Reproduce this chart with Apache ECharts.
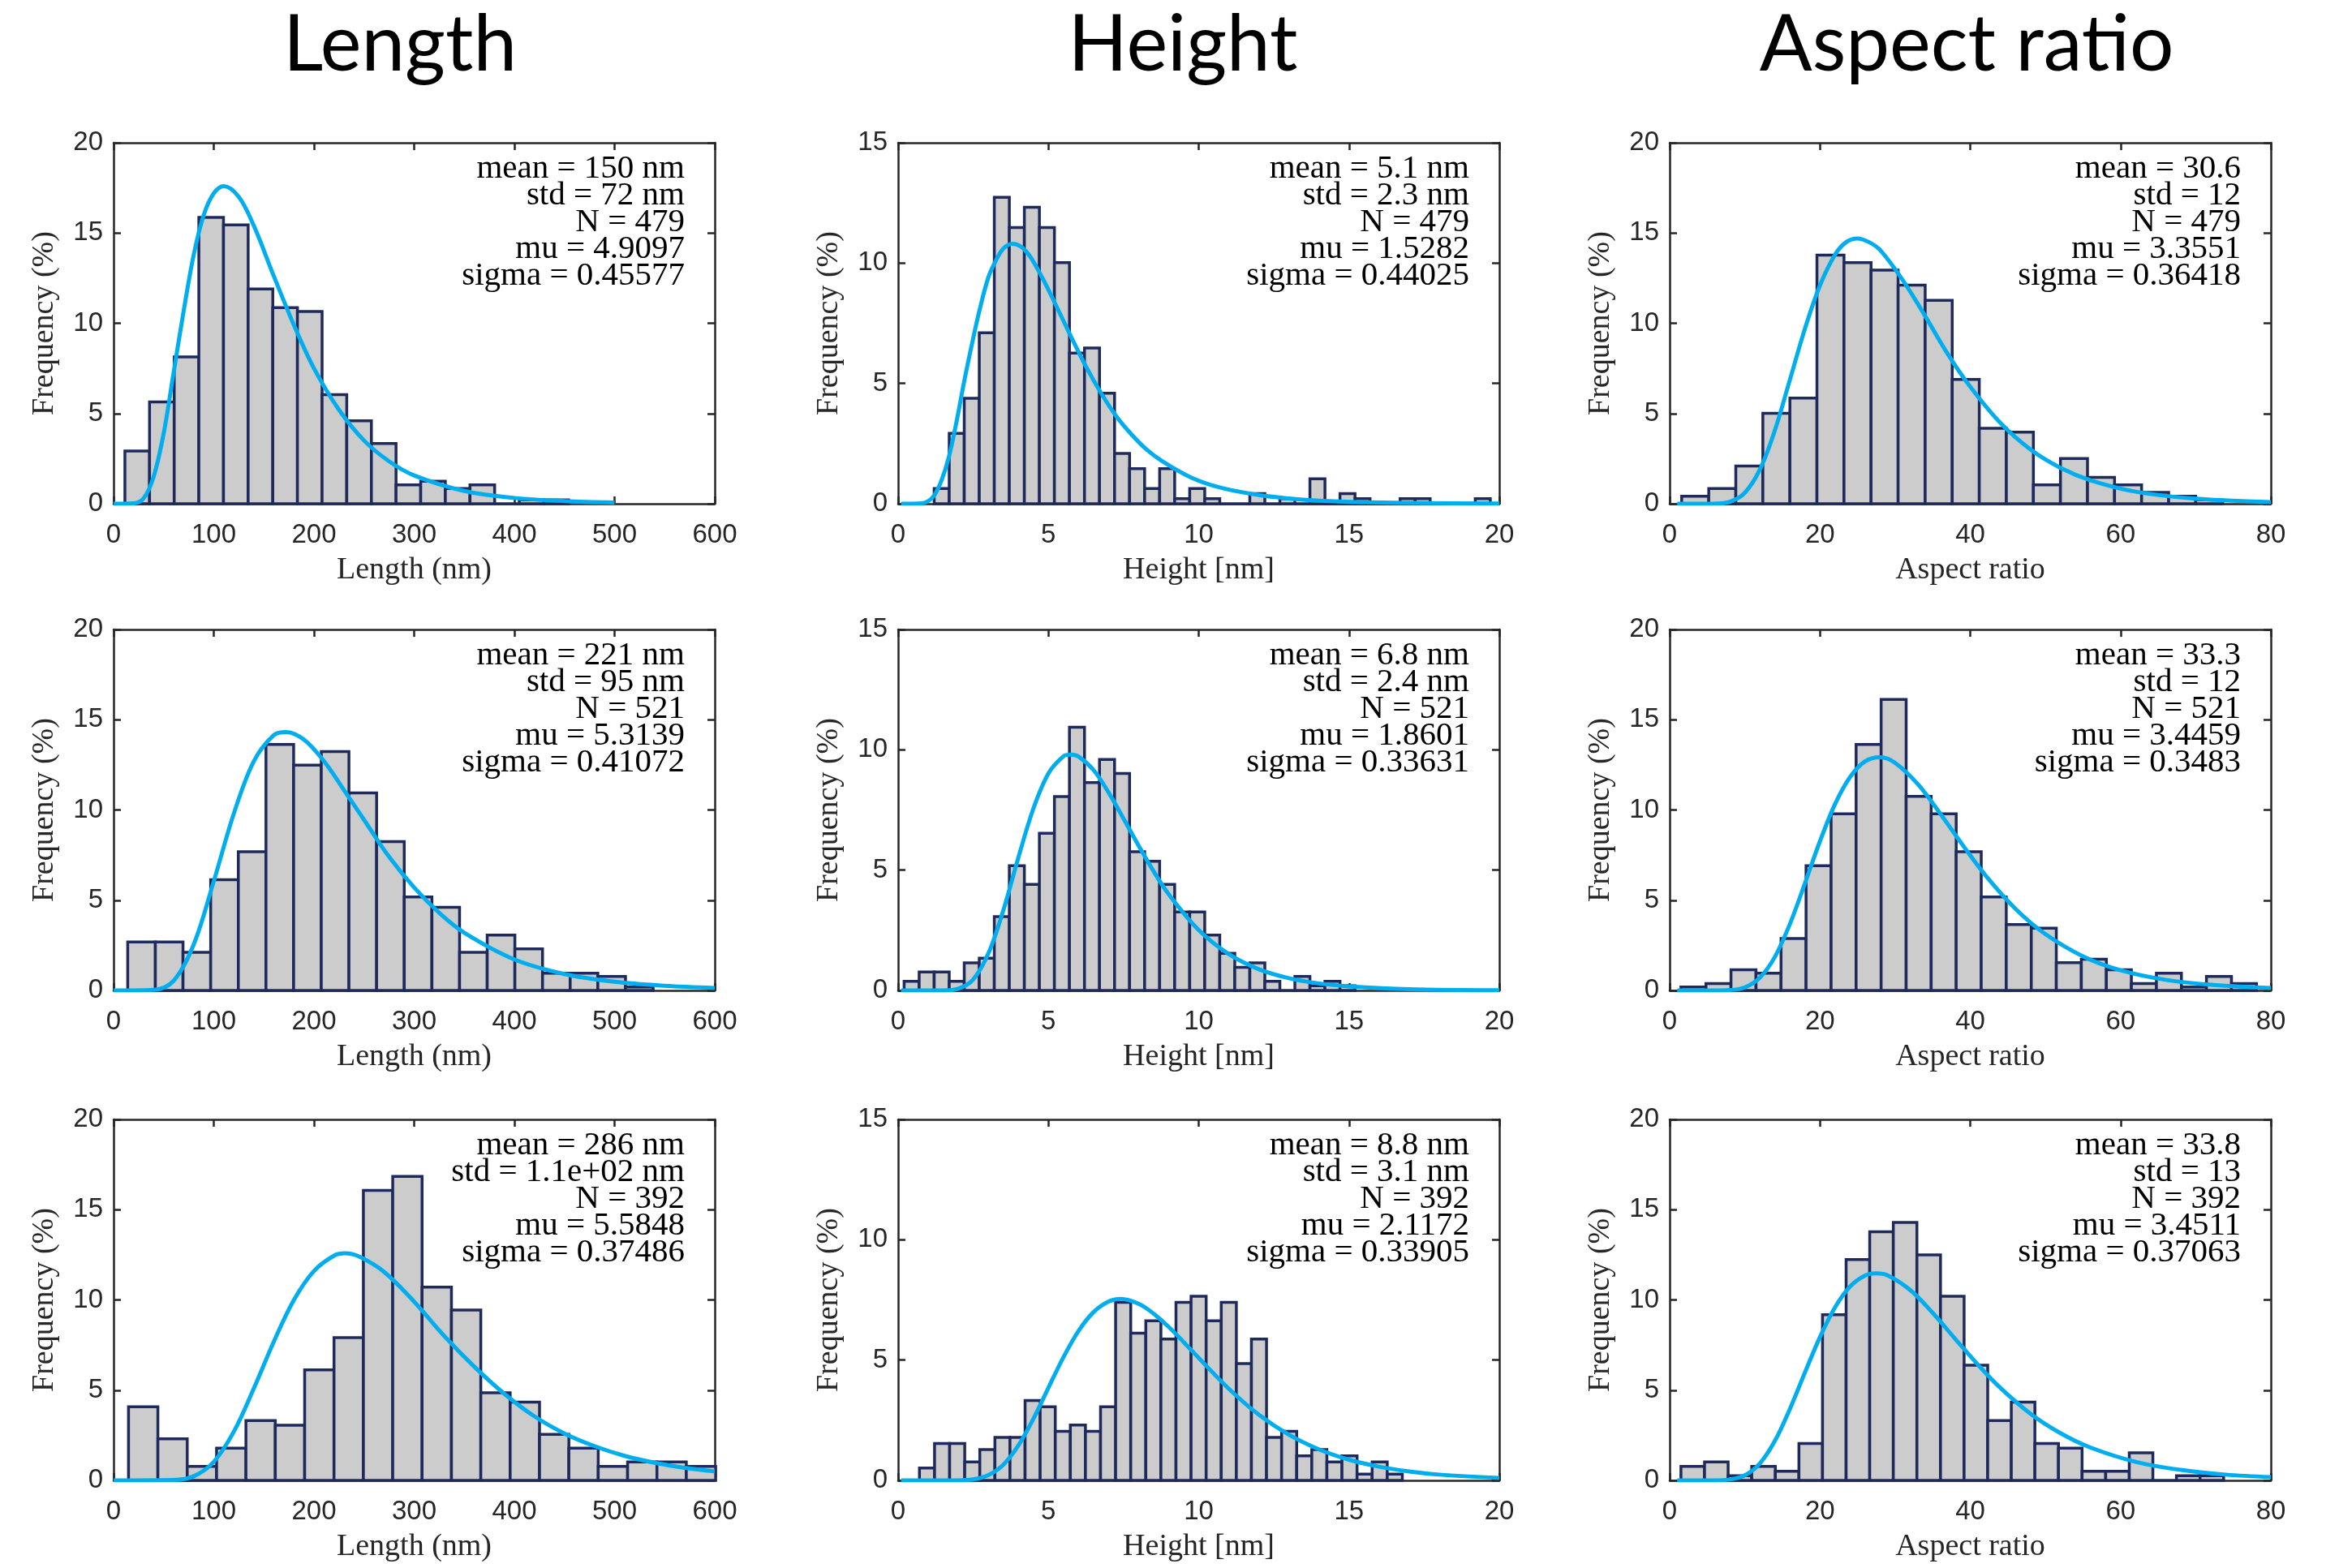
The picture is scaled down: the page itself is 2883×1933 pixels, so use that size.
<!DOCTYPE html>
<html>
<head>
<meta charset="utf-8">
<script src="https://cdn.jsdelivr.net/npm/echarts@6/dist/echarts.min.js"></script>
<style>
  html, body { margin: 0; padding: 0; background: #fff; }
  #chart { width: 2883px; height: 1933px; }
</style>
</head>
<body>
<div id="chart"></div>
<script>
// column titles
const colTitles = ['Length', 'Height', 'Aspect ratio'];
const xNames = ['Length (nm)', 'Height [nm]', 'Aspect ratio'];
const xMax = [600, 20, 80];
const xStep = [100, 5, 20];
const yMax = [20, 15, 20];

// histogram bins (first edge, width) per row
const lenBinStart = [11.3, 14.1, 14.9];
const lenBinWidth = [24.6, 27.6, 29.3];
const hgtBinStart = [1.2, 0.2, 0.71];
const hgtBinWidth = [0.5, 0.5, 0.502];
const aspBinStart = [1.6, 1.5, 1.5];
const aspBinWidth = [3.6, 3.33, 3.14];

// frequencies (%)
const lenFreq1 = [2.92, 5.64, 8.14, 15.87, 15.45, 11.9, 10.86, 10.65, 6.05, 4.59, 3.34, 1.04, 1.25, 0.84, 1.04, 0, 0.21, 0.21];
const lenFreq2 = [2.69, 2.69, 2.11, 6.14, 7.68, 13.63, 12.48, 13.24, 10.94, 8.25, 5.18, 4.61, 2.11, 3.07, 2.30, 0.96, 0.96, 0.77, 0.19];
const lenFreq3 = [4.08, 2.30, 0.77, 1.79, 3.32, 3.06, 6.12, 7.91, 16.07, 16.84, 10.71, 9.44, 4.85, 4.34, 2.55, 1.79, 0.77, 1.02, 1.02, 0.77];

const hgtFreq1 = [0.63, 2.92, 4.38, 7.10, 12.73, 11.48, 12.32, 11.48, 10.02, 6.26, 6.47, 4.59, 2.09, 1.46, 0.63, 1.46, 0.21, 0.63, 0.21, 0, 0, 0.42, 0, 0.21, 0, 1.04, 0, 0.42, 0.21, 0, 0, 0.21, 0.21, 0, 0, 0, 0.21];
const hgtFreq2 = [0.38, 0.77, 0.77, 0.38, 1.15, 1.34, 3.07, 5.18, 4.41, 6.53, 8.06, 10.94, 8.64, 9.60, 9.02, 5.76, 5.37, 4.41, 3.26, 3.26, 2.30, 1.54, 0.96, 1.15, 0.38, 0, 0.58, 0.19, 0.38, 0.19];
const hgtFreq3 = [0.51, 1.53, 1.53, 0.77, 1.28, 1.79, 1.79, 3.32, 3.06, 2.04, 2.30, 2.04, 3.06, 7.40, 6.12, 6.63, 5.87, 7.40, 7.65, 6.63, 7.40, 4.85, 5.87, 1.79, 2.04, 1.02, 1.28, 0.77, 1.02, 0.26, 0.77, 0.26];

const aspFreq1 = [0.42, 0.84, 2.09, 5.01, 5.85, 13.78, 13.36, 12.94, 12.11, 11.27, 6.89, 4.18, 3.97, 1.04, 2.51, 1.46, 1.04, 0.63, 0.42, 0.21];
const aspFreq2 = [0.19, 0.38, 1.15, 0.96, 2.88, 6.91, 9.79, 13.63, 16.12, 10.75, 9.79, 7.68, 5.18, 3.65, 3.45, 1.54, 1.73, 1.15, 0.38, 0.96, 0.19, 0.77, 0.38];
const aspFreq3 = [0.77, 1.02, 0.26, 0.77, 0.51, 2.04, 9.18, 12.24, 13.78, 14.29, 12.50, 10.20, 6.38, 3.32, 4.34, 2.04, 1.79, 0.51, 0.51, 1.53, 0, 0.26, 0.26];

// lognormal fit curves [x, %]
const lenFit1 = [[0,0],[20,0.02],[30,0.3],[40,1.5],[50,3.9],[60,7.3],[70,10.7],[80,13.8],[90,16.0],[100,17.2],[110,17.6],[125,17.0],[140,15.4],[160,12.6],[180,9.9],[200,7.5],[225,5.2],[250,3.5],[275,2.35],[300,1.57],[350,0.71],[400,0.32],[450,0.15],[500,0.07]];
const lenFit2 = [[0,0],[20,0],[40,0.03],[60,0.54],[80,2.55],[100,6.05],[120,9.8],[140,12.7],[160,14.15],[172,14.32],[190,13.9],[210,12.7],[230,11.1],[250,9.45],[275,7.4],[300,5.7],[325,4.3],[350,3.2],[400,1.72],[450,0.91],[500,0.48],[550,0.26],[600,0.14]];
const lenFit3 = [[0,0],[60,0.02],[80,0.23],[100,1.03],[120,2.7],[140,5.1],[160,7.7],[180,10.0],[200,11.6],[220,12.45],[231,12.58],[245,12.4],[270,11.55],[300,9.9],[330,8.0],[360,6.3],[390,4.8],[420,3.55],[450,2.6],[480,1.9],[510,1.36],[540,0.98],[570,0.70],[600,0.50]];

const hgtFit1 = [[0.1,0],[0.8,0.02],[1.0,0.11],[1.2,0.34],[1.45,0.99],[1.7,2.0],[1.95,3.45],[2.2,5.1],[2.45,6.6],[2.7,8.0],[3.0,9.4],[3.25,10.1],[3.5,10.6],[3.8,10.8],[4.25,10.5],[4.75,9.5],[5.25,8.25],[5.75,6.95],[6.25,5.7],[6.75,4.6],[7.25,3.65],[7.75,2.9],[8.25,2.27],[8.75,1.8],[9.75,1.09],[10.75,0.66],[12,0.36],[13,0.22],[14,0.13],[16.5,0.04],[20,0.01]];
const hgtFit2 = [[0.1,0],[1.5,0],[2,0.07],[2.5,0.46],[3,1.53],[3.5,3.33],[4,5.52],[4.5,7.56],[5,9.02],[5.5,9.73],[5.74,9.8],[6,9.72],[6.5,9.16],[7,8.23],[7.5,7.14],[8,6.02],[8.5,4.95],[9,4.0],[10,2.51],[11,1.51],[12,0.88],[13,0.51],[14,0.29],[15,0.17],[17,0.05],[20,0.01]];
const hgtFit3 = [[0.1,0],[2,0],[2.5,0.04],[3,0.22],[3.5,0.65],[4,1.45],[4.5,2.56],[5,3.85],[5.5,5.12],[6,6.21],[6.5,6.99],[7,7.43],[7.4,7.54],[8,7.34],[8.5,6.93],[9,6.38],[9.5,5.75],[10,5.09],[11,3.81],[12,2.73],[13,1.9],[14,1.29],[15,0.86],[16,0.57],[17,0.37],[18,0.24],[20,0.10]];

const aspFit1 = [[1,0],[6,0.01],[8,0.11],[10,0.61],[12,1.89],[14,4.07],[16,6.87],[18,9.7],[20,12.1],[22,13.8],[23.5,14.5],[25,14.7],[26.5,14.5],[28,14.06],[31,12.4],[34,10.4],[37,8.3],[40,6.48],[44,4.48],[48,3.01],[52,1.99],[56,1.3],[62,0.67],[70,0.28],[80,0.09]];
const aspFit2 = [[1,0],[6,0],[8,0.02],[10,0.17],[12,0.71],[14,1.86],[16,3.68],[18,5.94],[20,8.27],[22,10.32],[24,11.82],[26,12.69],[28,12.92],[30,12.61],[33,11.44],[36,9.8],[39,8.05],[42,6.39],[46,4.53],[50,3.12],[55,1.89],[60,1.12],[66,0.59],[72,0.31],[80,0.13]];
const aspFit3 = [[1,0],[6,0],[8,0.05],[10,0.28],[12,0.94],[14,2.19],[16,3.96],[18,5.98],[20,7.94],[22,9.58],[24,10.74],[26,11.35],[27.5,11.47],[29,11.36],[32,10.55],[35,9.28],[38,7.84],[41,6.42],[44,5.13],[48,3.7],[52,2.62],[56,1.82],[62,1.03],[68,0.58],[74,0.32],[80,0.18]];

// stats boxes
const lenStats = [
  'mean = 150 nm\nstd = 72 nm\nN = 479\nmu = 4.9097\nsigma = 0.45577',
  'mean = 221 nm\nstd = 95 nm\nN = 521\nmu = 5.3139\nsigma = 0.41072',
  'mean = 286 nm\nstd = 1.1e+02 nm\nN = 392\nmu = 5.5848\nsigma = 0.37486'
];
const hgtStats = [
  'mean = 5.1 nm\nstd = 2.3 nm\nN = 479\nmu = 1.5282\nsigma = 0.44025',
  'mean = 6.8 nm\nstd = 2.4 nm\nN = 521\nmu = 1.8601\nsigma = 0.33631',
  'mean = 8.8 nm\nstd = 3.1 nm\nN = 392\nmu = 2.1172\nsigma = 0.33905'
];
const aspStats = [
  'mean = 30.6\nstd = 12\nN = 479\nmu = 3.3551\nsigma = 0.36418',
  'mean = 33.3\nstd = 12\nN = 521\nmu = 3.4459\nsigma = 0.3483',
  'mean = 33.8\nstd = 13\nN = 392\nmu = 3.4511\nsigma = 0.37063'
];

// layout
const colLeft = [140, 1107, 2058];
const rowTop = [176, 776, 1380];
const plotW = 741, plotH = 445;
const titleX = [493, 1458, 2424];

const axisColor = '#262626';
const tickFont = 'Liberation Sans';
const texFont = 'Liberation Serif';

const cols = [
  { start: lenBinStart, width: lenBinWidth, freq: [lenFreq1, lenFreq2, lenFreq3], fit: [lenFit1, lenFit2, lenFit3], stats: lenStats },
  { start: hgtBinStart, width: hgtBinWidth, freq: [hgtFreq1, hgtFreq2, hgtFreq3], fit: [hgtFit1, hgtFit2, hgtFit3], stats: hgtStats },
  { start: aspBinStart, width: aspBinWidth, freq: [aspFreq1, aspFreq2, aspFreq3], fit: [aspFit1, aspFit2, aspFit3], stats: aspStats }
];

const grid = [], xAxis = [], yAxis = [], series = [], graphic = [];

function renderBin(params, api) {
  const p0 = api.coord([api.value(0), api.value(2)]);
  const p1 = api.coord([api.value(1), 0]);
  return {
    type: 'rect',
    shape: { x: p0[0], y: p0[1], width: p1[0] - p0[0], height: p1[1] - p0[1] },
    style: { fill: '#cccccc', stroke: '#1f2a5c', lineWidth: 3.5 }
  };
}

colTitles.forEach((t, c) => {
  graphic.push({
    type: 'text', x: titleX[c], y: 56, z: 10,
    style: { text: t, fill: '#000', fontSize: 96, fontFamily: 'Lato', align: 'center', verticalAlign: 'middle' }
  });
});

for (let r = 0; r < 3; r++) {
  for (let c = 0; c < 3; c++) {
    const g = grid.length;
    const col = cols[c];
    grid.push({ left: colLeft[c], top: rowTop[r], width: plotW, height: plotH, show: false });

    const lineStyle = { color: axisColor, width: 2.5 };
    xAxis.push({
      type: 'value', gridIndex: g, min: 0, max: xMax[c], interval: xStep[c], position: 'bottom',
      axisLine: { show: true, onZero: false, lineStyle },
      axisTick: { show: true, inside: true, length: 9, lineStyle },
      axisLabel: { fontSize: 33, color: axisColor, fontFamily: tickFont, margin: 22 },
      splitLine: { show: false },
      name: xNames[c], nameLocation: 'middle', nameGap: 63,
      nameTextStyle: { fontSize: 38, color: axisColor, fontFamily: texFont }
    });
    xAxis.push({
      type: 'value', gridIndex: g, min: 0, max: xMax[c], interval: xStep[c], position: 'top',
      axisLine: { show: true, onZero: false, lineStyle },
      axisTick: { show: true, inside: true, length: 9, lineStyle },
      axisLabel: { show: false }, splitLine: { show: false }
    });
    yAxis.push({
      type: 'value', gridIndex: g, min: 0, max: yMax[c], interval: 5, position: 'left',
      axisLine: { show: true, onZero: false, lineStyle },
      axisTick: { show: true, inside: true, length: 9, lineStyle },
      axisLabel: { fontSize: 33, color: axisColor, fontFamily: tickFont, margin: 13 },
      splitLine: { show: false },
      name: 'Frequency (%)', nameLocation: 'middle', nameGap: 66,
      nameTextStyle: { fontSize: 38, color: axisColor, fontFamily: texFont }
    });
    yAxis.push({
      type: 'value', gridIndex: g, min: 0, max: yMax[c], interval: 5, position: 'right',
      axisLine: { show: true, onZero: false, lineStyle },
      axisTick: { show: true, inside: true, length: 9, lineStyle },
      axisLabel: { show: false }, splitLine: { show: false }
    });

    const x0 = col.start[r], w = col.width[r];
    const bins = col.freq[r].map((v, i) => [x0 + i * w, x0 + (i + 1) * w, v]);
    series.push({
      type: 'custom', xAxisIndex: 2 * g, yAxisIndex: 2 * g,
      renderItem: renderBin, data: bins, encode: { x: [0, 1], y: 2 }, z: 2, silent: true
    });
    series.push({
      type: 'line', xAxisIndex: 2 * g, yAxisIndex: 2 * g, data: col.fit[r],
      showSymbol: false, smooth: 0.35,
      lineStyle: { color: '#00aeef', width: 5 }, z: 3, silent: true
    });

    graphic.push({
      type: 'text', x: colLeft[c] + plotW - 37, y: rowTop[r] + 16, z: 10,
      style: {
        text: col.stats[r], fill: '#000', fontSize: 41, fontFamily: texFont,
        align: 'right', verticalAlign: 'top', lineHeight: 33
      }
    });
  }
}

const chart = echarts.init(document.getElementById('chart'), null, { renderer: 'canvas' });
chart.setOption({
  backgroundColor: '#ffffff',
  animation: false,
  grid, xAxis, yAxis, series, graphic
});
</script>
</body>
</html>
